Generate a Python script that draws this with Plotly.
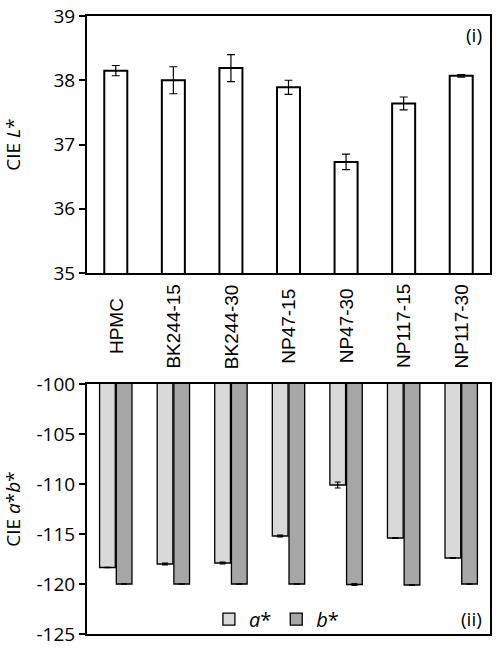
import plotly.graph_objects as go
from plotly.subplots import make_subplots

categories = ["HPMC", "BK244-15", "BK244-30", "NP47-15", "NP47-30", "NP117-15", "NP117-30"]
L_values = [38.15, 38.00, 38.19, 37.89, 36.73, 37.64, 38.07]
L_errors = [0.08, 0.21, 0.21, 0.11, 0.12, 0.10, 0.02]
a_values = [-118.35, -118.0, -117.9, -115.2, -110.1, -115.4, -117.4]
a_errors = [0.02, 0.08, 0.08, 0.08, 0.3, 0.05, 0.05]
b_values = [-120.0, -120.0, -120.0, -120.0, -120.05, -120.1, -120.0]
b_errors = [0.02, 0.02, 0.02, 0.02, 0.1, 0.03, 0.02]
L_ticks = [35, 36, 37, 38, 39]
ab_ticks = [-125, -120, -115, -110, -105, -100]

FONT = "Open Sans"

fig = make_subplots(rows=2, cols=1, vertical_spacing=0.0)

fig.add_trace(go.Bar(
    x=categories, y=L_values, width=0.4,
    marker=dict(color="white", line=dict(color="black", width=2)),
    error_y=dict(type="data", array=L_errors, color="black", thickness=1.2, width=4),
    showlegend=False), row=1, col=1)

fig.add_trace(go.Bar(
    x=categories, y=a_values, name="<i>a</i>*",
    marker=dict(color="#d9d9d9", line=dict(color="black", width=1.3)),
    error_y=dict(type="data", array=a_errors, color="black", thickness=1.2, width=3)),
    row=2, col=1)
fig.add_trace(go.Bar(
    x=categories, y=b_values, name="<i>b</i>*",
    marker=dict(color="#a6a6a6", line=dict(color="black", width=1.3)),
    error_y=dict(type="data", array=b_errors, color="black", thickness=1.2, width=3)),
    row=2, col=1)

axis_common = dict(showline=True, linecolor="black", linewidth=2, mirror=True,
                   showgrid=False, zeroline=False)

fig.update_xaxes(**axis_common, ticks="", showticklabels=False, row=1, col=1)
fig.update_xaxes(**axis_common, ticks="", showticklabels=False, row=2, col=1)

fig.update_yaxes(**axis_common, range=[35, 39], tickvals=L_ticks,
                 ticktext=[str(v) for v in L_ticks], ticks="outside", ticklen=6,
                 tickwidth=2, tickcolor="black", ticklabeloverflow="allow",
                 tickfont=dict(family=FONT, size=19, color="black"),
                 title=dict(text="CIE <i>L</i>*", font=dict(family=FONT, size=19, color="black"),
                            standoff=28),
                 row=1, col=1)
fig.update_yaxes(**axis_common, range=[-125, -100], tickvals=ab_ticks,
                 ticktext=["-" + str(abs(v)) for v in ab_ticks], ticks="outside", ticklen=6,
                 tickwidth=2, tickcolor="black", ticklabeloverflow="allow",
                 tickfont=dict(family=FONT, size=19, color="black"),
                 title=dict(text="CIE <i>a</i>*<i>b</i>*", font=dict(family=FONT, size=19, color="black"),
                            standoff=13),
                 row=2, col=1)

# category labels, rotated and centred between the two panels
annotations = [
    dict(text=c, x=c, xref="x", y=0.498, yref="paper", textangle=-90,
         xanchor="center", yanchor="middle", showarrow=False,
         font=dict(family="Liberation Sans", size=19, color="black"))
    for c in categories
]
annotations += [
    dict(text="(i)", x=0.985, y=0.969, xref="paper", yref="paper", xanchor="right",
         yanchor="middle", showarrow=False, font=dict(family=FONT, size=19, color="black")),
    dict(text="(ii)", x=0.985, y=0.024, xref="paper", yref="paper", xanchor="right",
         yanchor="middle", showarrow=False, font=dict(family=FONT, size=19, color="black")),
]

fig.update_layout(
    width=498, height=648,
    margin=dict(l=87, r=8, t=16, b=14, autoexpand=False),
    plot_bgcolor="white", paper_bgcolor="white",
    barmode="group", bargap=0.42, bargroupgap=0.06,
    legend=dict(orientation="h", x=0.47, xanchor="center", y=0.024, yanchor="middle",
                bgcolor="rgba(0,0,0,0)", font=dict(family=FONT, size=20, color="black"),
                itemwidth=30, tracegroupgap=0),
    annotations=annotations,
)

fig.update_layout(yaxis=dict(domain=[0.584, 1.0]), yaxis2=dict(domain=[0.0, 0.4045]))

fig.write_html("out.html")
